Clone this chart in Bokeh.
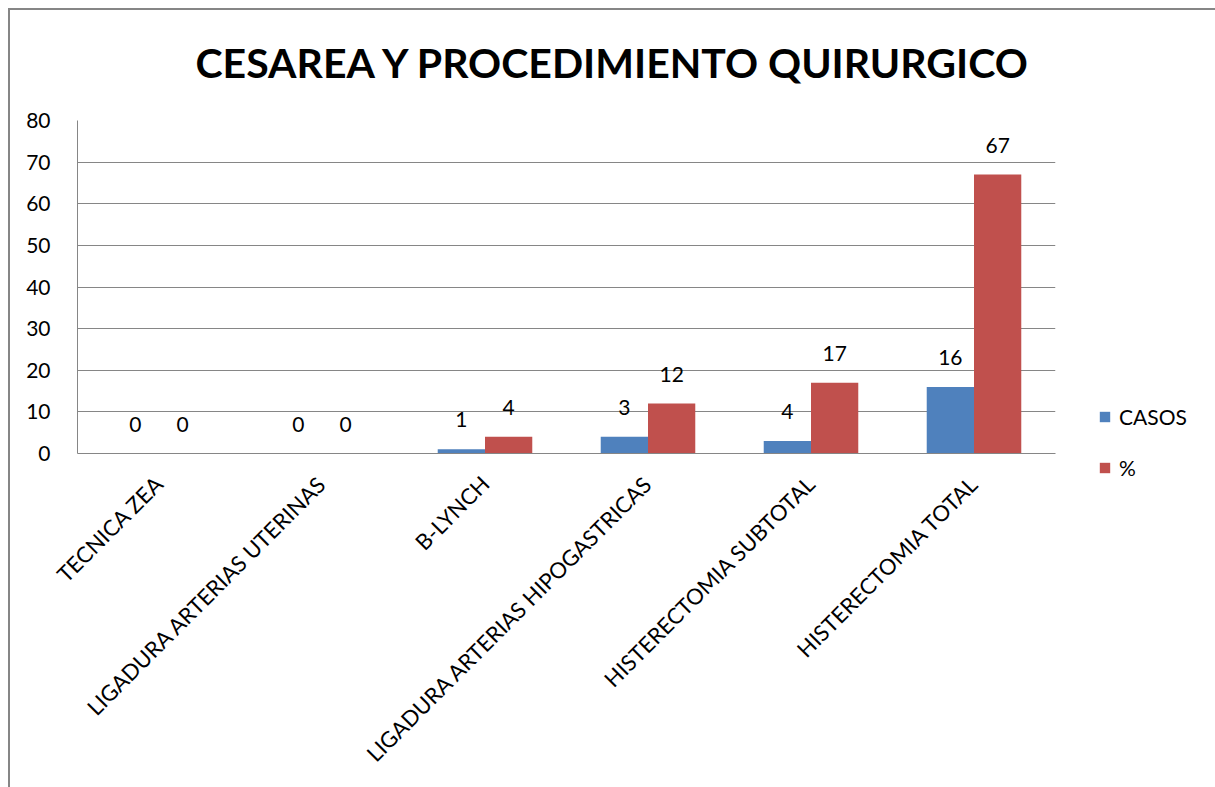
import math
from bokeh.plotting import figure
from bokeh.models import ColumnDataSource, LabelSet, Legend, LegendItem, Range1d, FixedTicker
from bokeh.transform import dodge
from bokeh.embed import file_html
from bokeh.resources import INLINE
from bokeh.core.properties import value

categories = ["TECNICA ZEA", "LIGADURA ARTERIAS UTERINAS", "B-LYNCH",
              "LIGADURA ARTERIAS HIPOGASTRICAS", "HISTERECTOMIA SUBTOTAL",
              "HISTERECTOMIA TOTAL"]
casos = [0, 0, 1, 4, 3, 16]
casos_labels = ["0", "0", "1", "3", "4", "16"]
pct = [0, 0, 4, 12, 17, 67]
pct_labels = ["0", "0", "4", "12", "17", "67"]
y_ticks = [0, 10, 20, 30, 40, 50, 60, 70, 80]

BLUE = "#4F81BD"
RED = "#C0504D"
GRID = "#868686"
FONT = "Lato"

src = ColumnDataSource(dict(cat=categories, casos=casos, casos_lbl=casos_labels,
                            pct=pct, pct_lbl=pct_labels))

p = figure(x_range=categories, y_range=Range1d(0, 80),
           frame_width=978, frame_height=333,
           output_backend="svg", toolbar_location=None,
           min_border_left=77, min_border_right=10, min_border_top=120,
           min_border_bottom=334)
p.border_fill_alpha = 0
p.styles = {
    "background": ("linear-gradient(#868686, #868686) 8px 8px / 2px calc(100% - 8px) no-repeat, "
                   "linear-gradient(#868686, #868686) 8px 8px / calc(100% - 10px) 2px no-repeat, "
                   "#ffffff"),
}

p.title.text = "CESAREA Y PROCEDIMIENTO QUIRURGICO"
p.title.align = "left"
p.title.text_font = FONT
p.title.text_font_style = "bold"
p.title.text_font_size = "41px"
p.title.text_color = "black"
p.title.offset = 118
p.title.standoff = 68

b1 = p.vbar(x=dodge("cat", -0.145, range=p.x_range), top="casos", width=0.29,
            source=src, fill_color=BLUE, line_color=None)
b2 = p.vbar(x=dodge("cat", 0.145, range=p.x_range), top="pct", width=0.29,
            source=src, fill_color=RED, line_color=None)

for col, lbl, off in (("casos", "casos_lbl", -0.145), ("pct", "pct_lbl", 0.145)):
    p.add_layout(LabelSet(x=dodge("cat", off, range=p.x_range), y=col, text=lbl,
                          source=src, y_offset=22, text_align="center",
                          text_baseline="bottom", text_font=value(FONT),
                          text_font_size=value("21px"), text_color="black"))

p.yaxis.ticker = FixedTicker(ticks=y_ticks)
p.yaxis.major_tick_out = 0
p.yaxis.major_tick_in = 0
p.yaxis.minor_tick_out = 0
p.yaxis.minor_tick_in = 0
p.yaxis.major_label_standoff = 27
p.yaxis.axis_line_color = GRID
p.xaxis.axis_line_color = GRID
p.xaxis.major_tick_out = 0
p.xaxis.major_tick_in = 0
p.xaxis.major_label_orientation = math.pi / 4
p.xaxis.major_label_standoff = 26
p.xaxis.major_label_text_font_size = "22px"
p.yaxis.major_label_text_font_size = "21px"
for ax in (p.xaxis, p.yaxis):
    ax.major_label_text_font = FONT
    ax.major_label_text_color = "black"

p.xgrid.grid_line_color = None
p.ygrid.grid_line_color = GRID
p.ygrid.ticker = FixedTicker(ticks=y_ticks)
p.outline_line_color = None
p.x_range.range_padding = 0

legend = Legend(items=[LegendItem(label="CASOS", renderers=[b1]),
                       LegendItem(label="%", renderers=[b2])],
                location=(43, -27), orientation="vertical",
                label_text_font=FONT, label_text_font_size="21px",
                label_text_color="black",
                glyph_width=13, glyph_height=13, spacing=26,
                border_line_color=None, background_fill_alpha=0,
                padding=0, margin=0, label_standoff=8)
p.add_layout(legend, "right")

open("out.html", "w").write(file_html(p, INLINE))
